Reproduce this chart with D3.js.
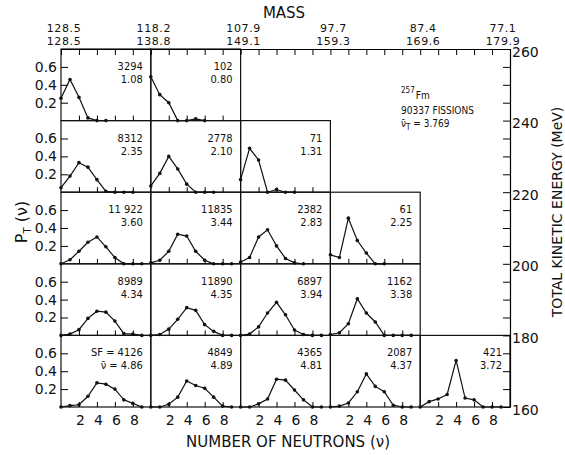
<!DOCTYPE html>
<html>
<head>
  <meta charset="UTF-8">
  <title>Fm-257 neutron distributions</title>
  <style>
    body { margin: 0; background: #fff; }
    text { fill: #111; }
  </style>
</head>
<body>
  <div class="svg-zone"></div>
  <script src="https://cdn.jsdelivr.net/npm/d3@7"></script>
  <script type="text/javascript">
  // mass boundaries (light / heavy fragment)
  const massLight = ["128.5", "118.2", "107.9", "97.7", "87.4", "77.1"];
  const massHeavy = ["128.5", "138.8", "149.1", "159.3", "169.6", "179.9"];
  const tkeTicks = [160, 180, 200, 220, 240, 260];

  // one entry per panel: TKE bin (lower edge), mass column, counts, nu-bar, P(nu)
  const cellTke = [240, 240, 220, 220, 220, 200, 200, 200, 200, 180, 180, 180, 180, 160, 160, 160, 160, 160];
  const cellCol = [0, 1, 0, 1, 2, 0, 1, 2, 3, 0, 1, 2, 3, 0, 1, 2, 3, 4];
  const counts = ["3294", "102", "8312", "2778", "71", "11 922", "11835", "2382", "61",
    "8989", "11890", "6897", "1162", "SF = 4126", "4849", "4365", "2087", "421"];
  const nuBar = ["1.08", "0.80", "2.35", "2.10", "1.31", "3.60", "3.44", "2.83", "2.25",
    "4.34", "4.35", "3.94", "3.38", "\u03BD\u0304 = 4.86", "4.89", "4.81", "4.37", "3.72"];
  const pnu = [
    [0.25, 0.46, 0.26, 0.03, 0, 0],
    [0.49, 0.29, 0.20, 0, 0, 0.02, 0],
    [0.05, 0.18, 0.33, 0.28, 0.14, 0.01, 0, 0, 0],
    [0.07, 0.21, 0.40, 0.26, 0.09, 0, 0, 0],
    [0.14, 0.49, 0.36, 0, 0.03, 0, 0],
    [0, 0.045, 0.14, 0.24, 0.30, 0.19, 0.07, 0, 0, 0],
    [0.01, 0.04, 0.14, 0.33, 0.31, 0.14, 0.04, 0, 0, 0],
    [0.02, 0.07, 0.30, 0.38, 0.20, 0.06, 0.01, 0],
    [0.10, 0.07, 0.51, 0.26, 0.12, 0, 0],
    [0, 0.015, 0.064, 0.19, 0.27, 0.26, 0.16, 0.02, 0.015, 0],
    [0, 0.01, 0.07, 0.18, 0.31, 0.28, 0.12, 0.045, 0, 0],
    [0, 0.015, 0.095, 0.25, 0.37, 0.23, 0.06, 0.01, 0, 0],
    [0.01, 0.03, 0.13, 0.41, 0.25, 0.15, 0, 0, 0, 0],
    [0, 0.015, 0.025, 0.12, 0.27, 0.255, 0.20, 0.08, 0.04, 0],
    [0, 0, 0.03, 0.11, 0.29, 0.24, 0.21, 0.11, 0.01, 0],
    [0, 0, 0.035, 0.09, 0.31, 0.30, 0.19, 0.08, 0, 0],
    [0, 0.01, 0.045, 0.17, 0.37, 0.23, 0.17, 0.02, 0, 0],
    [0, 0.06, 0.09, 0.14, 0.52, 0.10, 0.08, 0, 0, 0]
  ];

  var width = 565, height = 455;
  var font = "'DejaVu Sans', sans-serif";
  var narrow = "'DejaVu Sans Condensed', 'Liberation Sans Narrow', 'DejaVu Sans', sans-serif";

  // x: neutron number, 10 per mass column; y: TKE in MeV
  var x = d3.scaleLinear().domain([0, 50]).range([61, 510]);
  var y = d3.scaleLinear().domain([160, 260]).range([407, 49]);

  var svg = d3.select(".svg-zone").append("svg")
    .attr("width", width)
    .attr("height", height);

  var cells = pnu.map(function (p, i) {
    return { p: p, tke: cellTke[i], col: cellCol[i], n: counts[i], nu: nuBar[i] };
  });

  // panel frames
  svg.append("g").selectAll("rect")
    .data(cells)
    .enter().append("rect")
    .attr("x", function (d) { return x(d.col * 10); })
    .attr("y", function (d) { return y(d.tke + 20); })
    .attr("width", x(10) - x(0))
    .attr("height", y(160) - y(180))
    .attr("fill", "none")
    .attr("stroke", "#111")
    .attr("stroke-width", 1.2);

  // top mass axis (ticks every 2 neutrons)
  var topAxis = svg.append("g")
    .attr("transform", "translate(0," + y(260) + ")")
    .call(d3.axisBottom(x).tickValues(d3.range(0, 51, 2)).tickSize(6).tickSizeOuter(0).tickFormat(""));
  topAxis.select(".domain").attr("stroke-width", 1.2);

  // two-line mass labels, last one pulled left of the TKE numbers
  svg.append("g").selectAll("text")
    .data(massLight)
    .enter().append("text")
    .attr("text-anchor", "middle")
    .style("font", "11px " + font)
    .style("letter-spacing", "0.6px")
    .each(function (d, i) {
      var px = x(i * 10) + (i === massLight.length - 1 ? -7 : 3);
      var t = d3.select(this);
      t.append("tspan").attr("x", px).attr("y", 32).text(d);
      t.append("tspan").attr("x", px).attr("y", 44.5).text(massHeavy[i]);
    });

  svg.append("text")
    .attr("x", 284).attr("y", 18)
    .attr("text-anchor", "middle")
    .style("font", "15px " + font)
    .text("MASS");

  // right TKE axis
  var rightAxis = svg.append("g")
    .attr("transform", "translate(" + x(50) + ",0)")
    .call(d3.axisRight(y).tickValues(d3.range(160, 261, 5)).tickSize(-7).tickSizeOuter(0).tickPadding(2)
      .tickFormat(function (d) { return tkeTicks.indexOf(d) >= 0 ? d : ""; }));
  rightAxis.select(".domain").attr("stroke-width", 1.2);
  rightAxis.selectAll("text").style("font", "14px " + font).attr("fill", "#111").attr("dy", "0.5em");

  svg.append("text")
    .attr("transform", "translate(562,212) rotate(-90)")
    .attr("text-anchor", "middle")
    .style("font", "14px " + font)
    .text("TOTAL KINETIC ENERGY (MeV)");

  // per-row P(nu) axes on the left
  d3.range(160, 241, 20).forEach(function (t) {
    var p = d3.scaleLinear().domain([0, 0.8]).range([y(t), y(t + 20)]);
    var g = svg.append("g")
      .attr("transform", "translate(" + x(0) + ",0)")
      .call(d3.axisLeft(p).tickValues([0.2, 0.4, 0.6]).tickSize(-7).tickPadding(4)
        .tickFormat(d3.format(".1f")));
    g.select(".domain").remove();
    g.selectAll("text").style("font", "14px " + font).attr("fill", "#111");
  });

  svg.append("text")
    .attr("transform", "translate(27,222) rotate(-90)")
    .attr("text-anchor", "middle")
    .style("font", "16px " + font)
    .call(function (t) {
      t.append("tspan").text("P");
      t.append("tspan").attr("dy", 4).style("font-size", "10px").text("T");
      t.append("tspan").attr("dy", -4).text(" (\u03BD)");
    });

  // panels: ticks, curve, points, labels
  cells.forEach(function (d) {
    var cx = d3.scaleLinear().domain([0, 10]).range([x(d.col * 10), x(d.col * 10 + 10)]);
    var cy = d3.scaleLinear().domain([0, 0.8]).range([y(d.tke), y(d.tke + 20)]);
    var g = svg.append("g");

    var ax = g.append("g")
      .attr("transform", "translate(0," + y(d.tke) + ")")
      .call(d3.axisTop(cx).tickValues([2, 4, 6, 8]).tickSize(5).tickFormat(""));
    ax.select(".domain").remove();

    var line = d3.line()
      .x(function (v, i) { return cx(i); })
      .y(function (v) { return cy(v); });
    g.append("path")
      .datum(d.p)
      .attr("d", line)
      .attr("fill", "none")
      .attr("stroke", "#111")
      .attr("stroke-width", 1.2);
    g.selectAll("circle")
      .data(d.p)
      .enter().append("circle")
      .attr("cx", function (v, i) { return cx(i); })
      .attr("cy", function (v) { return cy(v); })
      .attr("r", 1.8)
      .attr("fill", "#111");

    var lab = g.append("text")
      .attr("text-anchor", "end")
      .style("font", "11px " + narrow);
    lab.append("tspan").attr("x", cx(10) - 8).attr("y", y(d.tke + 20) + 21).text(d.n);
    lab.append("tspan").attr("x", cx(10) - 8).attr("y", y(d.tke + 20) + 34).text(d.nu);
  });

  // bottom neutron labels
  d3.range(0, 5).forEach(function (c) {
    var cx = d3.scaleLinear().domain([0, 10]).range([x(c * 10), x(c * 10 + 10)]);
    var g = svg.append("g")
      .attr("transform", "translate(1," + y(160) + ")")
      .call(d3.axisBottom(cx).tickValues([2, 4, 6, 8]).tickSize(0).tickPadding(8));
    g.select(".domain").remove();
    g.selectAll("text").style("font", "14px " + font).attr("fill", "#111");
  });

  svg.append("text")
    .attr("x", 288).attr("y", 447)
    .attr("text-anchor", "middle")
    .style("font", "15px " + font)
    .text("NUMBER OF NEUTRONS (\u03BD)");

  // run summary
  var info = svg.append("text").style("font", "10px " + narrow);
  info.append("tspan").attr("x", 401).attr("y", 93).style("font-size", "8px").text("257");
  info.append("tspan").attr("dx", 1).attr("y", 99).text("Fm");
  info.append("tspan").attr("x", 401).attr("y", 114).text("90337 FISSIONS");
  info.append("tspan").attr("x", 401).attr("y", 127).text("\u03BD\u0304");
  info.append("tspan").attr("dy", 3).style("font-size", "8px").text("T");
  info.append("tspan").attr("dy", -3).text(" = 3.769");
  </script>
</body>
</html>
